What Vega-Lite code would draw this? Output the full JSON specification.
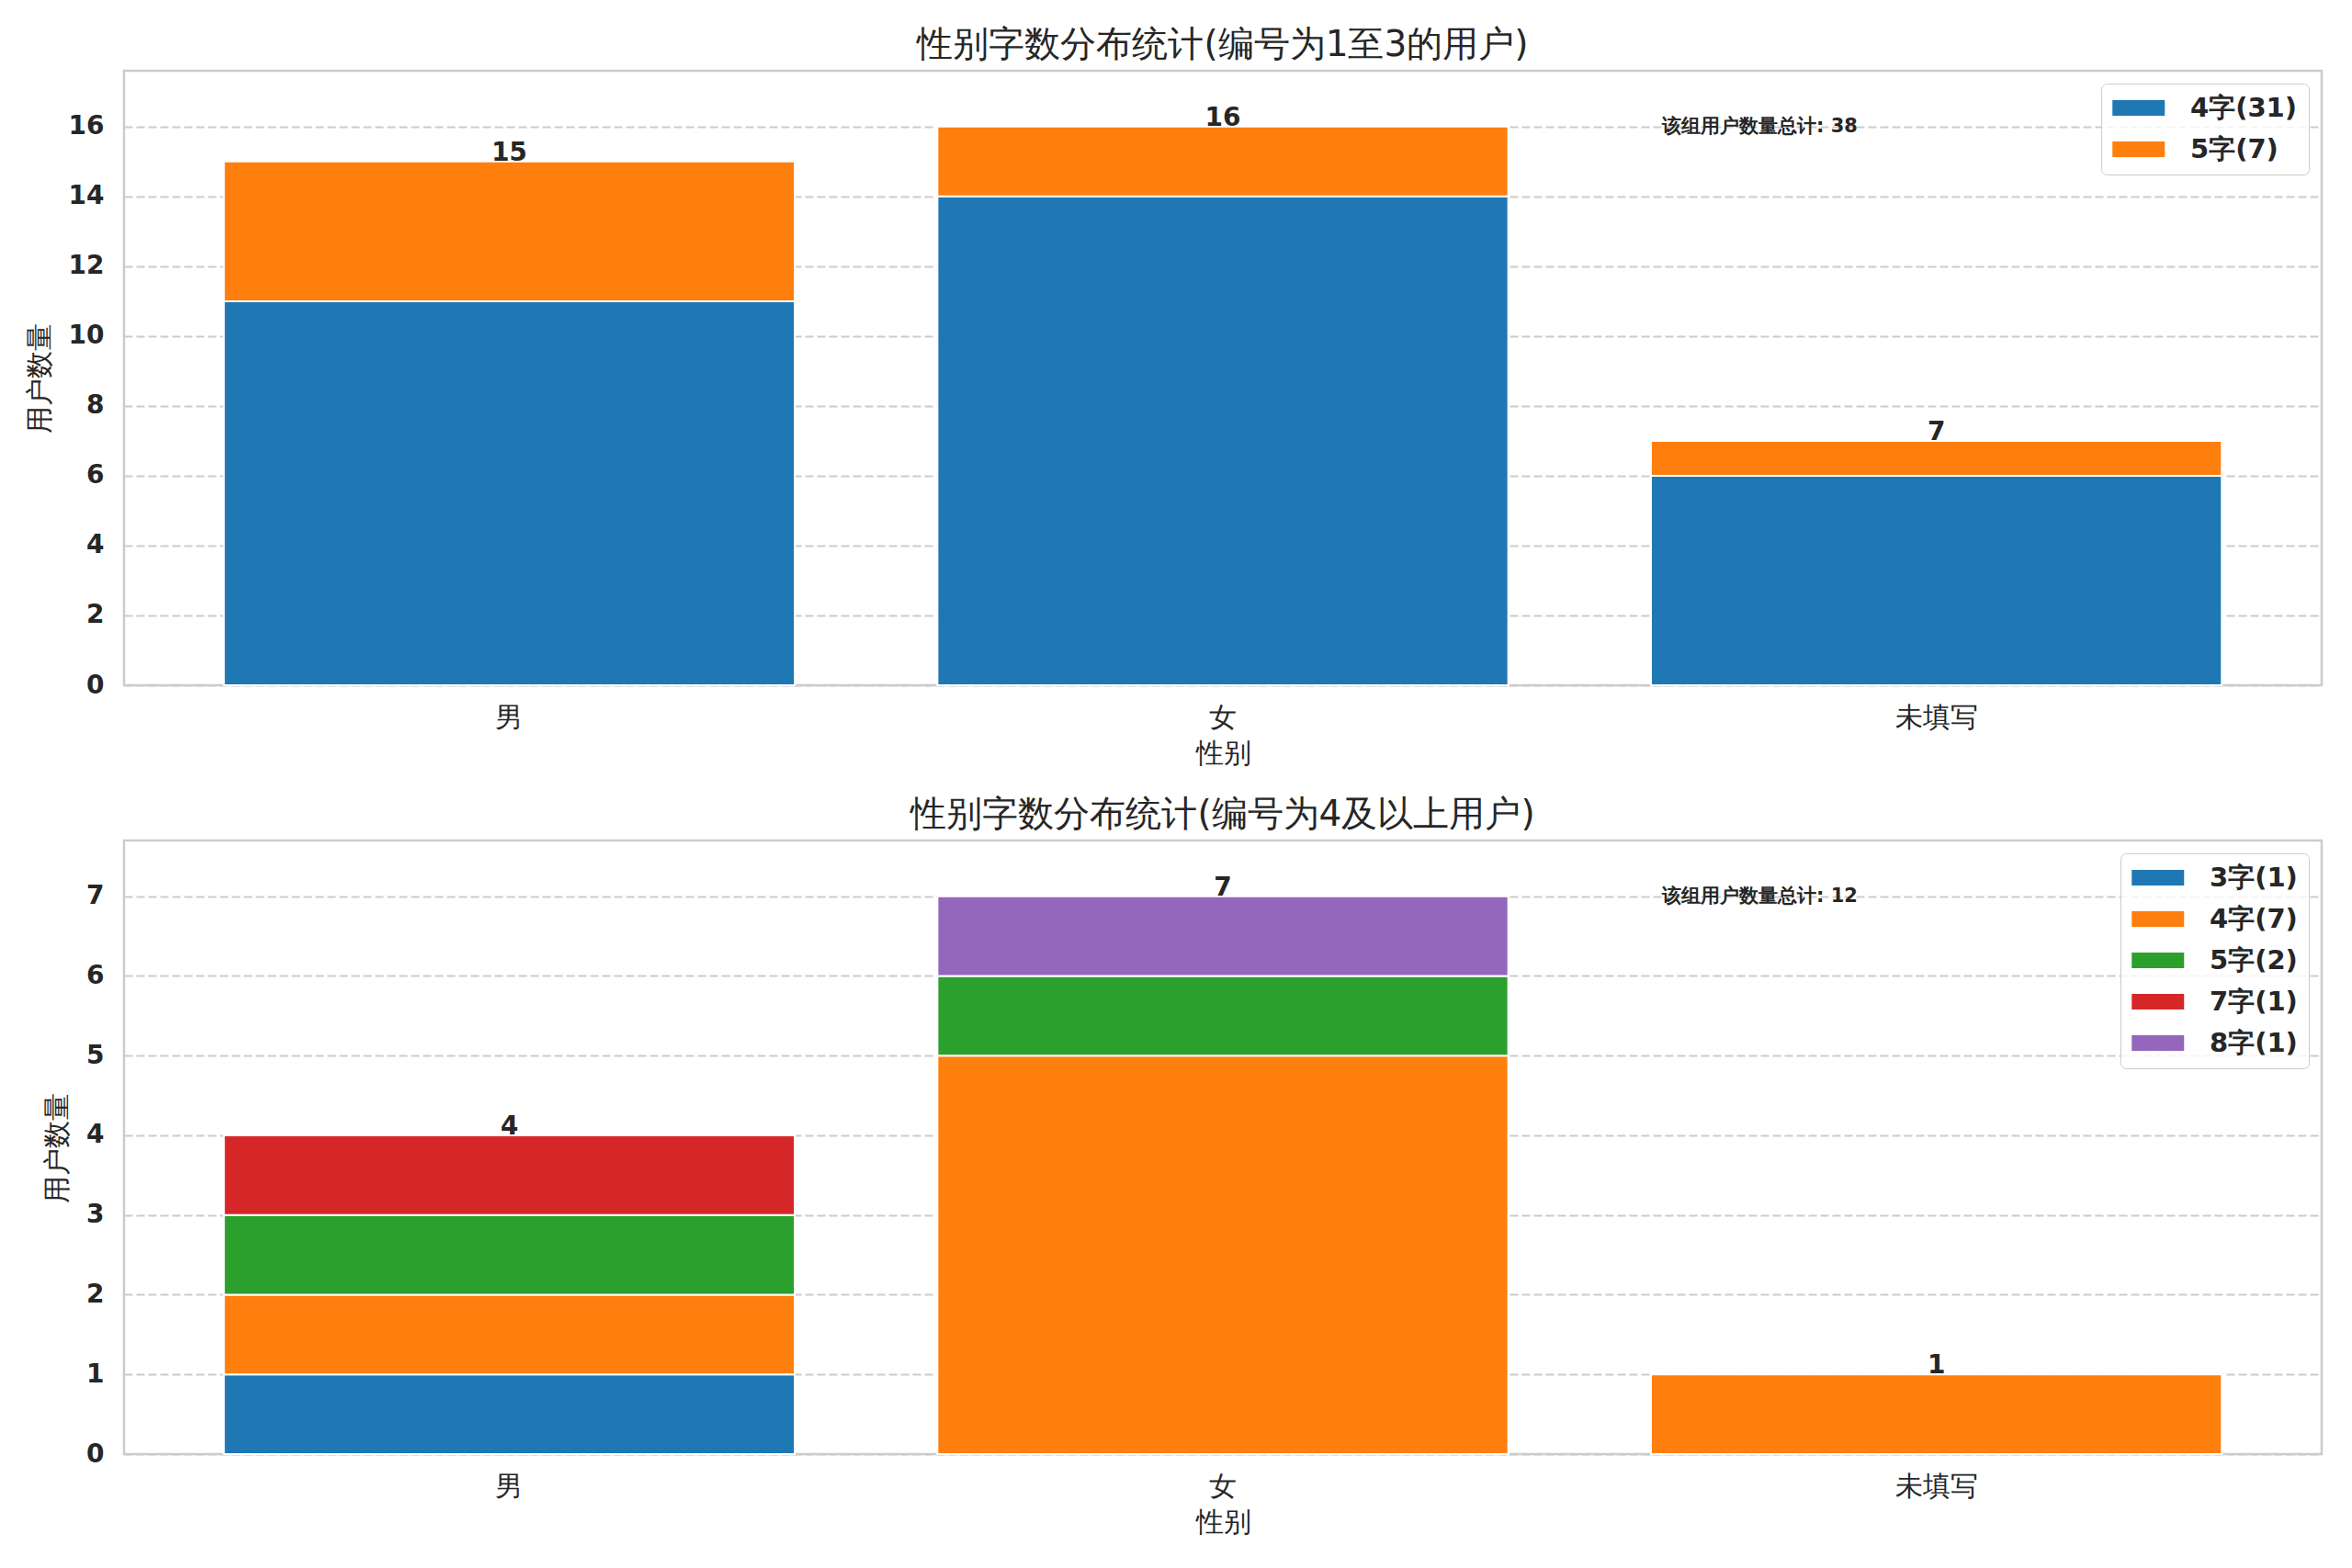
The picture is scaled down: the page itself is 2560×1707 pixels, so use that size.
{
  "$schema": "https://vega.github.io/schema/vega-lite/v6.json",
  "padding": {"left": 26, "top": 28, "right": 33, "bottom": 8},
  "background": "white",
  "datasets": {
    "top": [
      {"group": "男", "len": "4字", "count": 11},
      {"group": "男", "len": "5字", "count": 4},
      {"group": "女", "len": "4字", "count": 14},
      {"group": "女", "len": "5字", "count": 2},
      {"group": "未填写", "len": "4字", "count": 6},
      {"group": "未填写", "len": "5字", "count": 1}
    ],
    "bottom": [
      {"group": "男", "len": "3字", "count": 1},
      {"group": "男", "len": "4字", "count": 1},
      {"group": "男", "len": "5字", "count": 1},
      {"group": "男", "len": "7字", "count": 1},
      {"group": "女", "len": "4字", "count": 5},
      {"group": "女", "len": "5字", "count": 1},
      {"group": "女", "len": "8字", "count": 1},
      {"group": "未填写", "len": "4字", "count": 1}
    ]
  },
  "vconcat": [
    {
      "title": "性别字数分布统计(编号为1至3的用户)",
      "width": 2392,
      "height": 669,
      "data": {"name": "top"},
      "transform": [
        {"joinaggregate": [{"op": "sum", "field": "count", "as": "lenTotal"}], "groupby": ["len"]},
        {"calculate": "datum.len + '(' + datum.lenTotal + ')'", "as": "series"}
      ],
      "encoding": {
        "x": {
          "field": "group",
          "type": "nominal",
          "sort": ["男", "女", "未填写"],
          "scale": {"paddingInner": 0.2, "paddingOuter": 0.14},
          "title": "性别"
        }
      },
      "layer": [
        {
          "mark": {"type": "bar", "stroke": "white", "strokeWidth": 2},
          "encoding": {
            "y": {
              "field": "count",
              "type": "quantitative",
              "stack": "zero",
              "scale": {"domain": [0, 17.6], "nice": false},
              "axis": {"values": [0, 2, 4, 6, 8, 10, 12, 14, 16], "format": "d"},
              "title": "用户数量"
            },
            "color": {"field": "series", "type": "nominal", "scale": {"scheme": "category10"}, "title": null},
            "order": {"field": "series"}
          }
        },
        {
          "transform": [
            {"aggregate": [{"op": "sum", "field": "count", "as": "total"}], "groupby": ["group"]}
          ],
          "mark": {"type": "text", "fontSize": 28, "fontWeight": "bold", "color": "#262626", "baseline": "alphabetic", "dy": -1},
          "encoding": {
            "y": {"field": "total", "type": "quantitative"},
            "text": {"field": "total", "type": "quantitative"}
          }
        },
        {
          "transform": [
            {"aggregate": [{"op": "sum", "field": "count", "as": "total"}], "groupby": ["group"]},
            {"joinaggregate": [{"op": "max", "field": "total", "as": "maxTotal"}, {"op": "sum", "field": "total", "as": "allTotal"}]},
            {"filter": "datum.group === '女'"},
            {"calculate": "'该组用户数量总计: ' + datum.allTotal", "as": "note"}
          ],
          "mark": {"type": "text", "fontSize": 21, "fontWeight": "bold", "color": "#262626", "align": "left", "baseline": "middle", "xOffset": 478},
          "encoding": {
            "y": {"field": "maxTotal", "type": "quantitative"},
            "text": {"field": "note"}
          }
        }
      ]
    },
    {
      "title": "性别字数分布统计(编号为4及以上用户)",
      "width": 2392,
      "height": 668,
      "data": {"name": "bottom"},
      "transform": [
        {"joinaggregate": [{"op": "sum", "field": "count", "as": "lenTotal"}], "groupby": ["len"]},
        {"calculate": "datum.len + '(' + datum.lenTotal + ')'", "as": "series"}
      ],
      "encoding": {
        "x": {
          "field": "group",
          "type": "nominal",
          "sort": ["男", "女", "未填写"],
          "scale": {"paddingInner": 0.2, "paddingOuter": 0.14},
          "title": "性别"
        }
      },
      "layer": [
        {
          "mark": {"type": "bar", "stroke": "white", "strokeWidth": 2},
          "encoding": {
            "y": {
              "field": "count",
              "type": "quantitative",
              "stack": "zero",
              "scale": {"domain": [0, 7.7], "nice": false},
              "axis": {"values": [0, 1, 2, 3, 4, 5, 6, 7], "format": "d"},
              "title": "用户数量"
            },
            "color": {"field": "series", "type": "nominal", "scale": {"scheme": "category10"}, "title": null},
            "order": {"field": "series"}
          }
        },
        {
          "transform": [
            {"aggregate": [{"op": "sum", "field": "count", "as": "total"}], "groupby": ["group"]}
          ],
          "mark": {"type": "text", "fontSize": 28, "fontWeight": "bold", "color": "#262626", "baseline": "alphabetic", "dy": -1},
          "encoding": {
            "y": {"field": "total", "type": "quantitative"},
            "text": {"field": "total", "type": "quantitative"}
          }
        },
        {
          "transform": [
            {"aggregate": [{"op": "sum", "field": "count", "as": "total"}], "groupby": ["group"]},
            {"joinaggregate": [{"op": "max", "field": "total", "as": "maxTotal"}, {"op": "sum", "field": "total", "as": "allTotal"}]},
            {"filter": "datum.group === '女'"},
            {"calculate": "'该组用户数量总计: ' + datum.allTotal", "as": "note"}
          ],
          "mark": {"type": "text", "fontSize": 21, "fontWeight": "bold", "color": "#262626", "align": "left", "baseline": "middle", "xOffset": 478},
          "encoding": {
            "y": {"field": "maxTotal", "type": "quantitative"},
            "text": {"field": "note"}
          }
        }
      ]
    }
  ],
  "spacing": 29,
  "resolve": {"scale": {"color": "independent"}, "legend": {"color": "independent"}},
  "config": {
    "font": "DejaVu Sans",
    "view": {"stroke": "#cccccc", "strokeWidth": 2.5},
    "axis": {
      "domain": false,
      "ticks": false,
      "gridColor": "#cccccc",
      "gridDash": [9, 4],
      "gridWidth": 2,
      "labelColor": "#262626",
      "titleColor": "#262626",
      "labelFontSize": 28,
      "titleFontSize": 30,
      "titleFontWeight": "normal"
    },
    "axisY": {"labelFontWeight": "bold", "labelPadding": 22, "titlePadding": 16},
    "axisX": {"labelAngle": 0, "labelPadding": 20, "titlePadding": 9, "bandPosition": 0.5, "labelFontSize": 30},
    "title": {"fontSize": 39, "fontWeight": "normal", "color": "#262626", "offset": 8},
    "legend": {
      "orient": "top-right",
      "offset": 14,
      "fillColor": "rgba(255,255,255,0.8)",
      "strokeColor": "#cccccc",
      "cornerRadius": 6,
      "padding": 12,
      "symbolType": "M-1,-0.6H3V0.6H-1Z",
      "symbolSize": 812,
      "symbolStrokeWidth": 0,
      "symbolOpacity": 1,
      "labelFontSize": 29,
      "labelFontWeight": "bold",
      "labelColor": "#262626",
      "labelOffset": 56,
      "rowPadding": 15
    }
  }
}
